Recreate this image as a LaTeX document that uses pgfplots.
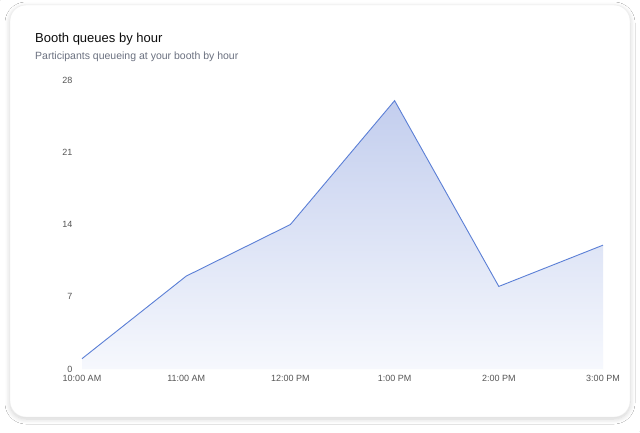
\documentclass[border=0pt]{standalone}
\usepackage{pgfplots}
\pgfplotsset{compat=1.18}
\usepackage{fontspec}
\setmainfont{Liberation Sans}
\usetikzlibrary{shadows.blur}

\definecolor{linecol}{HTML}{5B7FD6}
\definecolor{filltop}{HTML}{C3CEEE}
\definecolor{fillbot}{HTML}{F6F8FD}
\definecolor{ticktxt}{HTML}{555555}
\definecolor{subtxt}{HTML}{6B7180}

\begin{document}
\begin{tikzpicture}[x=1pt,y=1pt]
\fill[white] (0,0) rectangle (640,-432);
% faint corner pixels keep the page at full size
\fill[black!6] (0,0) rectangle (0.8,-0.8);
\fill[black!6] (639.2,-431.2) rectangle (640,-432);
% card
\fill[white, rounded corners=16pt,
      blur shadow={shadow blur steps=8, shadow xshift=0pt, shadow yshift=-2pt,
                   shadow blur radius=5pt, shadow opacity=18}]
  (10,-5) rectangle (630,-417);
\draw[black!7, rounded corners=16pt] (10,-5) rectangle (630,-417);

\node[anchor=base west, inner sep=0pt, font=\fontsize{13}{15}\selectfont, text=black!95]
  at (35,-42) {Booth queues by hour};
\node[anchor=base west, inner sep=0pt, font=\fontsize{10.5}{12}\selectfont, text=subtxt]
  at (35,-59) {Participants queueing at your booth by hour};

\begin{axis}[
  at={(82pt,-369pt)}, anchor=south west,
  scale only axis,
  width=521pt, height=289pt,
  xmin=0, xmax=5, ymin=0, ymax=28,
  axis x line=bottom, axis y line=left,
  axis line style={draw=none},
  clip=false,
  xtick={0,1,2,3,4,5},
  xticklabels={10:00 AM,11:00 AM,12:00 PM,1:00 PM,2:00 PM,3:00 PM},
  ytick={0,7,14,21,28},
  tick style={draw=none},
  x tick label style={yshift=-1pt},
  y tick label style={xshift=-4pt},
  every tick label/.append style={font=\fontsize{9}{10}\selectfont, text=ticktxt},
  /pgf/number format/assume math mode=true,
]
\addplot[draw=none, top color=filltop, bottom color=fillbot, shading=axis] coordinates {
  (0,1) (1,9) (2,14) (3,26) (4,8) (5,12)
} \closedcycle;
\addplot[linecol, line width=0.9pt, mark=none] coordinates {
  (0,1) (1,9) (2,14) (3,26) (4,8) (5,12)
};
\end{axis}
\pgfresetboundingbox
\useasboundingbox (0,0) rectangle (640,-432);
\end{tikzpicture}
\end{document}
